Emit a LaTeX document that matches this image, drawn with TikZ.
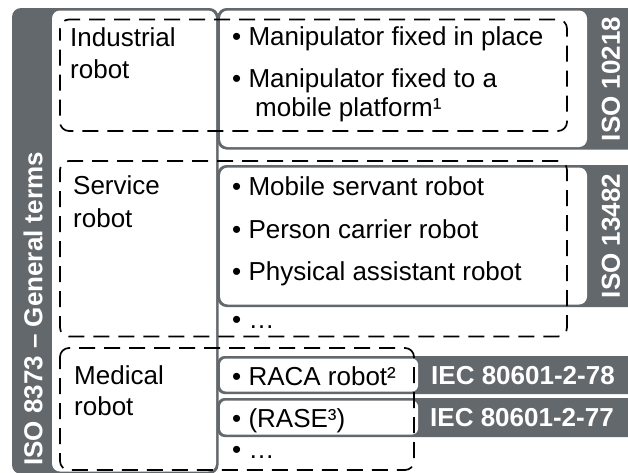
\documentclass[tikz,border=0pt]{standalone}
\usepackage{fontspec}
\setmainfont{Liberation Sans}
\definecolor{stdgray}{RGB}{99,104,108}
\begin{document}
\begin{tikzpicture}[x=1pt,y=-1pt,
  stdlabel/.style={font=\fontsize{26}{31}\selectfont\bfseries, text=white, inner sep=0pt},
  itemtext/.style={font=\fontsize{26}{31}\selectfont, anchor=base west, inner sep=0pt},
  grayframe/.style={fill=stdgray, rounded corners=9pt},
  whitebox/.style={fill=white, rounded corners=8pt},
  groupbox/.style={draw=black, line width=1.7pt, dash pattern=on 16pt off 9pt, dash phase=4pt, rounded corners=9pt}
]
\useasboundingbox (0,0) rectangle (628,472);

% ISO 8373 frame with its label strip
\fill[grayframe] (12,8) rectangle (218.5,474);
\fill[whitebox] (52,10.5) rectangle (216,471.5);

% ISO 10218 frame
\fill[grayframe] (217.5,8) rectangle (645,149.5);
\fill[whitebox] (220,10.5) rectangle (587,147);

% ISO 13482 frame
\fill[grayframe] (217.5,165) rectangle (645,307);
\fill[whitebox] (220,167.5) rectangle (587,304.5);

% IEC frames
\fill[grayframe, rounded corners=7pt] (217.5,356) rectangle (645,394);
\fill[whitebox, rounded corners=6pt] (220,358.5) rectangle (418,391.5);
\fill[grayframe, rounded corners=7pt] (217.5,398) rectangle (645,437);
\fill[whitebox, rounded corners=6pt] (220,400.5) rectangle (418,434.5);

% standard labels
\node[stdlabel, rotate=90] (iso8373) at (33,309) {ISO 8373 – General terms};
\node[stdlabel, rotate=90] (iso10218) at (611,79) {ISO 10218};
\node[stdlabel, rotate=90] (iso13482) at (611,236) {ISO 13482};
\node[stdlabel, anchor=base] (iec78) at (523,384) {IEC 80601-2-78};
\node[stdlabel, anchor=base] (iec77) at (522,426) {IEC 80601-2-77};

% robot categories
\node[itemtext] (ind1) at (70,46) {Industrial};
\node[itemtext] (ind2) at (70,78) {robot};
\node[itemtext] (srv1) at (73,194) {Service};
\node[itemtext] (srv2) at (73,227) {robot};
\node[itemtext] (med1) at (74,384) {Medical};
\node[itemtext] (med2) at (74,415) {robot};

% industrial robot items
\node[itemtext] (manip1) at (232,45) {• Manipulator fixed in place};
\node[itemtext] (manip2) at (232,87) {• Manipulator fixed to a};
\node[itemtext] (manip3) at (255,116) {mobile platform¹};

% service robot items
\node[itemtext] (servant) at (232,195) {• Mobile servant robot};
\node[itemtext] (carrier) at (232,238) {• Person carrier robot};
\node[itemtext] (assist) at (232,280) {• Physical assistant robot};
\node[itemtext] (srvmore) at (232,328) {• …};

% medical robot items
\node[itemtext] (raca) at (232,385) {• RACA robot²};
\node[itemtext] (rase) at (232,427) {• (RASE³)};
\node[itemtext] (medmore) at (232,458) {• …};

% dashed category groups
\draw[groupbox] (60,19.5) rectangle (567,131);
\draw[groupbox] (60,161) rectangle (567,336.5);
\draw[groupbox] (60,348) rectangle (414,470);
\end{tikzpicture}
\end{document}
